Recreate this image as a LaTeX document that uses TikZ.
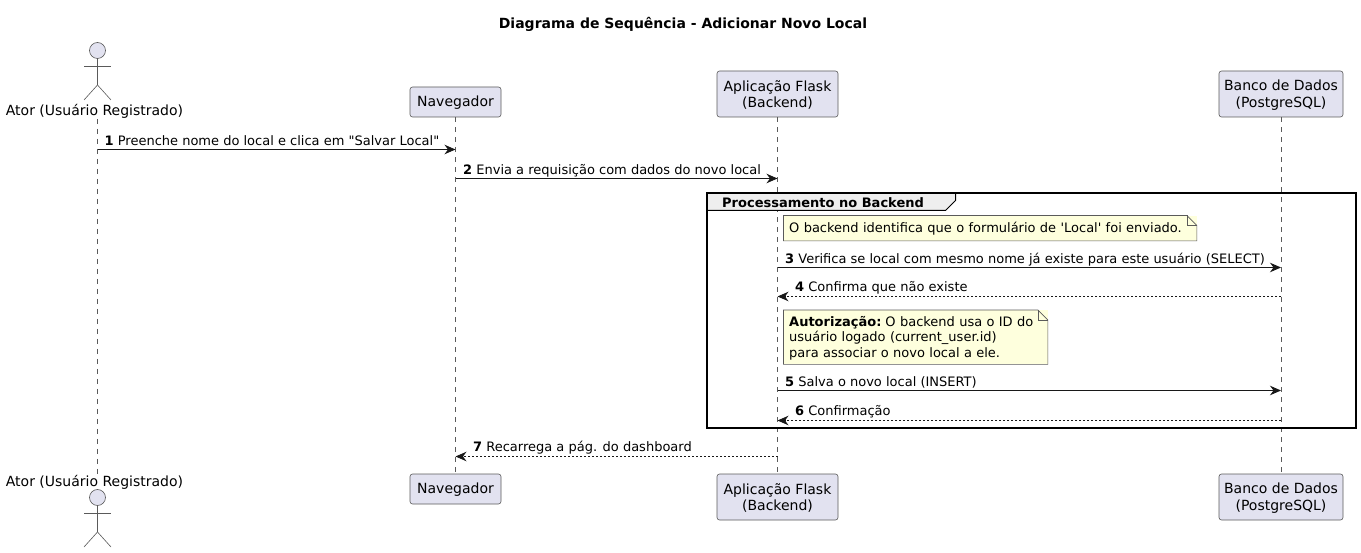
\documentclass[tikz,border=0pt]{standalone}
\usepackage{fontspec}
\setmainfont{DejaVu Sans}
\usepackage{xcolor}
\usetikzlibrary{arrows.meta,positioning,calc}
\definecolor{partFill}{HTML}{E2E2F0}
\definecolor{noteFill}{HTML}{FEFFDD}
\definecolor{inkLine}{HTML}{181818}
\definecolor{thinLine}{HTML}{5A5A5A}
\definecolor{tabFill}{HTML}{EEEEEE}
\newcommand{\topstrut}{\rule{0pt}{12.5pt}}

\begin{document}
\begin{tikzpicture}[
    x=1pt, y=-1pt,
    box/.style={rectangle, draw=thinLine, line width=0.6pt, fill=partFill, rounded corners=2.5pt, inner sep=0pt, align=center, font=\fontsize{14}{16.5}\selectfont},
    actorname/.style={inner sep=0pt, text height=11pt, text depth=3.5pt, font=\fontsize{14}{16.5}\selectfont},
    head/.style={circle, draw=thinLine, line width=0.6pt, fill=partFill, minimum size=16pt, inner sep=0pt},
    stick/.style={draw=thinLine, line width=0.6pt},
    lifeline/.style={draw=thinLine, line width=0.6pt, dash pattern=on 5pt off 5pt},
    syncline/.style={draw=inkLine, line width=1pt, -{Stealth[length=11pt, width=9.5pt, inset=3.5pt]}},
    replyline/.style={draw=inkLine, line width=1pt, dash pattern=on 2pt off 2pt, -{Stealth[length=11pt, width=9.5pt, inset=3.5pt]}},
    msg/.style={anchor=base west, inner sep=0pt, font=\fontsize{13}{15}\selectfont},
    note/.style={anchor=north west, fill=noteFill, inner sep=0pt, align=left, font=\fontsize{13}{15.7}\selectfont},
    noteline/.style={draw=thinLine, line width=0.6pt}
]
    % Title
    \node [inner sep=0pt, font=\fontsize{14}{16}\selectfont\bfseries] (title) at (683,24) {Diagrama de Sequência - Adicionar Novo Local};

    % Participants, top
    \node [head] (actorhead) at (97.5,50.5) {};
    \node [actorname] (actor) at (94.5,111.5) {Ator (Usuário Registrado)};
    \node [box, minimum width=91pt, minimum height=30pt] (nav) at (455.5,102) {\topstrut Navegador};
    \node [box, minimum width=121pt, minimum height=46pt] (flask) at (777.5,94) {\topstrut Aplicação Flask\\(Backend)};
    \node [box, minimum width=124pt, minimum height=46pt] (db) at (1281,94) {\topstrut Banco de Dados\\(PostgreSQL)};

    % Participants, bottom
    \node [actorname] (actorB) at (94.5,482.5) {Ator (Usuário Registrado)};
    \node [head] (actorheadB) at (97.5,497.5) {};
    \node [box, minimum width=91pt, minimum height=30pt] (navB) at (455.5,489) {\topstrut Navegador};
    \node [box, minimum width=121pt, minimum height=46pt] (flaskB) at (777.5,497) {\topstrut Aplicação Flask\\(Backend)};
    \node [box, minimum width=124pt, minimum height=46pt] (dbB) at (1281,497) {\topstrut Banco de Dados\\(PostgreSQL)};

    % Stick figures
    \coordinate (hip) at (97.5,85);
    \path [stick] (actorhead.south) -- (hip) -- (84,100);
    \path [stick] (hip) -- (111,100);
    \coordinate (armL) at (84,66);
    \coordinate (armR) at (111,66);
    \path [stick] (armL) -- (armR);
    \coordinate (hipB) at (97.5,532);
    \path [stick] (actorheadB.south) -- (hipB) -- (84,547);
    \path [stick] (hipB) -- (111,547);
    \coordinate (armLB) at (84,513);
    \coordinate (armRB) at (111,513);
    \path [stick] (armLB) -- (armRB);

    % Lifelines
    \path [lifeline] (actor.south -| actorhead) -- (actorB.north -| actorhead);
    \path [lifeline] (nav.south) -- (navB.north);
    \path [lifeline] (flask.south) -- (flaskB.north);
    \path [lifeline] (db.south) -- (dbB.north);

    % Message rows on the lifelines
    \foreach \row/\y in {1/149.5,2/178.5,3/267.5,4/296.5,5/390.5,6/420.5,7/456.5} {
        \coordinate (actor\row) at (97.5,\y);
        \coordinate (nav\row) at (455.5,\y);
        \coordinate (flask\row) at (777.5,\y);
        \coordinate (db\row) at (1281,\y);
    }

    % Group
    \coordinate (frameNW) at (707,193);
    \coordinate (frameSE) at (1356,428);
    \coordinate (tabA) at (955.5,193);
    \coordinate (tabB) at (955.5,200.5);
    \coordinate (tabC) at (945.5,210.5);
    \coordinate (tabD) at (707,210.5);
    \path [fill=tabFill] (frameNW) -- (tabA) -- (tabB) -- (tabC) -- (tabD) -- cycle;
    \draw [line width=1.5pt] (frameNW) rectangle (frameSE);
    \draw [line width=1pt] (tabA) -- (tabB) -- (tabC) -- (tabD);
    \node [msg, font=\fontsize{13}{15}\selectfont\bfseries] (grouplabel) at (722,207.5) {Processamento no Backend};

    % Notes
    \node [note, minimum width=413pt, minimum height=25pt, text width=402pt, text height=12pt, text depth=3pt, inner xsep=5.5pt] (note1) at (783.5,215.5) {O backend identifica que o formulário de \textquotesingle Local\textquotesingle{} foi enviado.};
    \path [noteline] (note1.north west) -- ($(note1.north east)+(-10,0)$) -- ($(note1.north east)+(0,10)$) -- (note1.south east) -- (note1.south west) -- cycle;
    \path [noteline] ($(note1.north east)+(-10,0)$) -- ($(note1.north east)+(-10,10)$) -- ($(note1.north east)+(0,10)$);
    \node [note, minimum width=264pt, minimum height=54pt, text width=253pt, text height=12pt, inner xsep=5.5pt] (note2) at (783.5,310) {\textbf{Autorização:}\kern-2.5pt{} O backend usa o ID do\\usuário logado (current\_user.id)\\para associar o novo local a ele.};
    \path [noteline] (note2.north west) -- ($(note2.north east)+(-10,0)$) -- ($(note2.north east)+(0,10)$) -- (note2.south east) -- (note2.south west) -- cycle;
    \path [noteline] ($(note2.north east)+(-10,0)$) -- ($(note2.north east)+(-10,10)$) -- ($(note2.north east)+(0,10)$);

    % Messages
    \path [syncline] (actor1) -- (nav1);
    \node [msg] (msg1) at ($(actor1)+(7,-4)$) {\textbf{1} Preenche nome do local e clica em \textquotedbl Salvar Local\textquotedbl};
    \path [syncline] (nav2) -- (flask2);
    \node [msg] (msg2) at ($(nav2)+(7.5,-4)$) {\textbf{2} Envia a requisição com dados do novo local};
    \path [syncline] (flask3) -- (db3);
    \node [msg] (msg3) at ($(flask3)+(7.5,-4)$) {\textbf{3} Verifica se local com mesmo nome já existe para este usuário (SELECT)};
    \path [replyline] (db4) -- (flask4);
    \node [msg] (msg4) at ($(flask4)+(17.5,-5)$) {\textbf{4} Confirma que não existe};
    \path [syncline] (flask5) -- (db5);
    \node [msg] (msg5) at ($(flask5)+(7.5,-4)$) {\textbf{5} Salva o novo local (INSERT)};
    \path [replyline] (db6) -- (flask6);
    \node [msg] (msg6) at ($(flask6)+(17.5,-5)$) {\textbf{6} Confirmação};
    \path [replyline] (flask7) -- (nav7);
    \node [msg] (msg7) at ($(nav7)+(17.5,-5)$) {\textbf{7} Recarrega a pág. do dashboard};

    \useasboundingbox (0,0) rectangle (1361,553);
\end{tikzpicture}
\end{document}
